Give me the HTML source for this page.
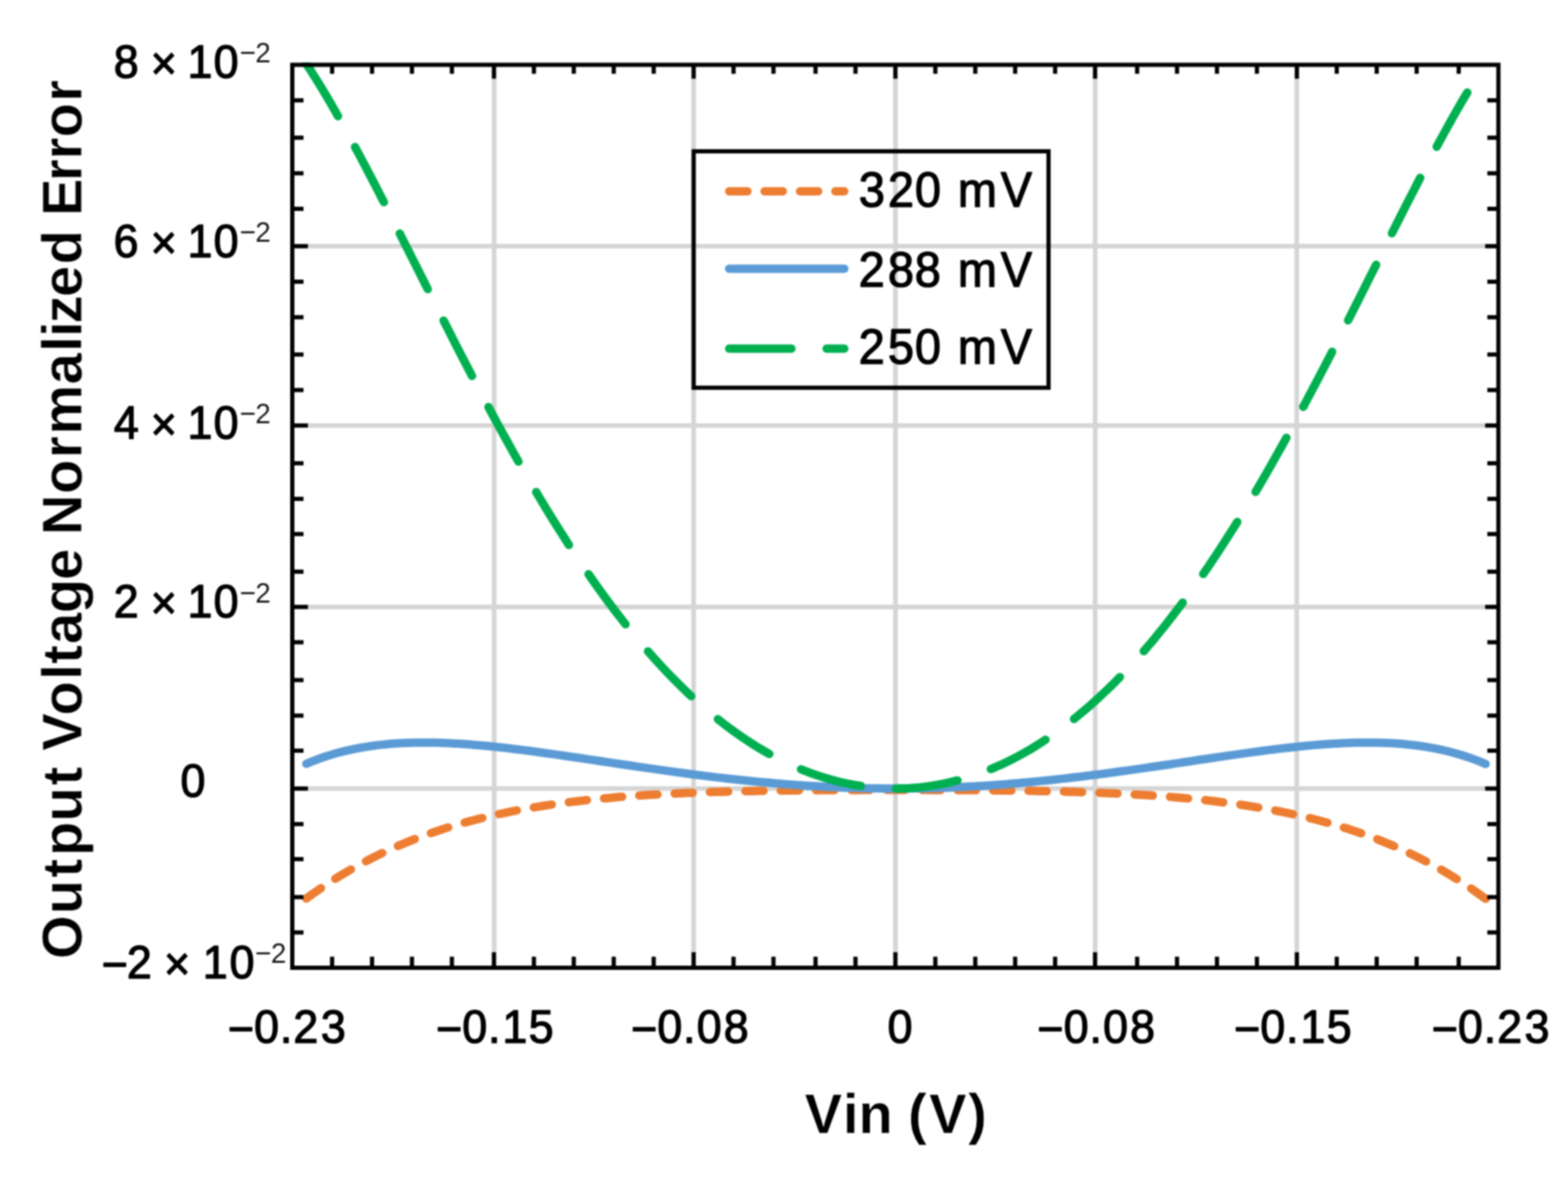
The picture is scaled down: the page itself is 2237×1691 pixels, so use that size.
<!DOCTYPE html>
<html lang="en"><head><meta charset="utf-8"><title>Output Voltage Normalized Error vs Vin</title>
<style>html,body{margin:0;padding:0;background:#fff;overflow:hidden}svg{display:block}text{font-family:"Liberation Sans", sans-serif;fill:#000;stroke-linejoin:round}</style></head><body>
<svg width="2237" height="1691" viewBox="0 0 2237 1691">
<rect x="0" y="0" width="2237" height="1691" fill="#fff"/>
<defs>
<filter id="soft" x="0" y="0" width="2237" height="1691" filterUnits="userSpaceOnUse" color-interpolation-filters="sRGB"><feGaussianBlur stdDeviation="0.9"/></filter>
<clipPath id="plot"><rect x="417.0" y="89.0" width="1720.7" height="1292.0"/></clipPath>
</defs>
<g filter="url(#soft)">
<g stroke="#d5d5d5" stroke-width="6.6" fill="none">
<line x1="705.0" y1="92.5" x2="705.0" y2="1381.0"/>
<line x1="989.6" y1="92.5" x2="989.6" y2="1381.0"/>
<line x1="1277.5" y1="92.5" x2="1277.5" y2="1381.0"/>
<line x1="1562.4" y1="92.5" x2="1562.4" y2="1381.0"/>
<line x1="1850.0" y1="92.5" x2="1850.0" y2="1381.0"/>
<line x1="417.0" y1="351.3" x2="2137.7" y2="351.3"/>
<line x1="417.0" y1="607.3" x2="2137.7" y2="607.3"/>
<line x1="417.0" y1="866.1" x2="2137.7" y2="866.1"/>
<line x1="417.0" y1="1125.3" x2="2137.7" y2="1125.3"/>
</g>
<g fill="none" stroke-width="12.0" stroke-linecap="round" stroke-linejoin="round" clip-path="url(#plot)">
<path d="M437.0,1282.2 L444.0,1277.1 L451.1,1272.1 L458.1,1267.3 L465.2,1262.5 L472.2,1258.0 L479.2,1253.5 L486.3,1249.2 L493.3,1245.0 L500.4,1240.9 L507.4,1236.9 L514.4,1233.0 L521.5,1229.3 L528.5,1225.6 L535.6,1222.1 L542.6,1218.6 L549.6,1215.3 L556.7,1212.1 L563.7,1208.9 L570.8,1205.9 L577.8,1203.0 L584.8,1200.1 L591.9,1197.3 L598.9,1194.6 L606.0,1192.0 L613.0,1189.5 L620.0,1187.1 L627.1,1184.7 L634.1,1182.4 L641.2,1180.2 L648.2,1178.1 L655.2,1176.0 L662.3,1174.0 L669.3,1172.1 L676.4,1170.2 L683.4,1168.4 L690.4,1166.7 L697.5,1165.0 L704.5,1163.3 L711.6,1161.8 L718.6,1160.3 L725.6,1158.8 L732.7,1157.4 L739.7,1156.0 L746.7,1154.7 L753.8,1153.5 L760.8,1152.3 L767.9,1151.1 L774.9,1150.0 L781.9,1148.9 L789.0,1147.9 L796.0,1146.9 L803.1,1145.9 L810.1,1145.0 L817.1,1144.1 L824.2,1143.3 L831.2,1142.5 L838.3,1141.7 L845.3,1140.9 L852.3,1140.2 L859.4,1139.5 L866.4,1138.9 L873.5,1138.2 L880.5,1137.6 L887.5,1137.1 L894.6,1136.5 L901.6,1136.0 L908.7,1135.5 L915.7,1135.0 L922.7,1134.6 L929.8,1134.1 L936.8,1133.7 L943.9,1133.3 L950.9,1133.0 L957.9,1132.6 L965.0,1132.3 L972.0,1131.9 L979.1,1131.6 L986.1,1131.4 L993.1,1131.1 L1000.2,1130.8 L1007.2,1130.6 L1014.3,1130.3 L1021.3,1130.1 L1028.3,1129.9 L1035.4,1129.7 L1042.4,1129.5 L1049.5,1129.4 L1056.5,1129.2 L1063.5,1129.0 L1070.6,1128.9 L1077.6,1128.8 L1084.7,1128.6 L1091.7,1128.5 L1098.7,1128.4 L1105.8,1128.3 L1112.8,1128.2 L1119.9,1128.1 L1126.9,1128.0 L1133.9,1128.0 L1141.0,1127.9 L1148.0,1127.8 L1155.1,1127.7 L1162.1,1127.7 L1169.1,1127.6 L1176.2,1127.6 L1183.2,1127.5 L1190.3,1127.5 L1197.3,1127.5 L1204.3,1127.4 L1211.4,1127.4 L1218.4,1127.4 L1225.5,1127.4 L1232.5,1127.3 L1239.5,1127.3 L1246.6,1127.3 L1253.6,1127.3 L1260.7,1127.3 L1267.7,1127.3 L1274.7,1127.3 L1281.8,1127.3 L1288.8,1127.3 L1295.8,1127.3 L1302.9,1127.3 L1309.9,1127.3 L1317.0,1127.3 L1324.0,1127.3 L1331.0,1127.4 L1338.1,1127.4 L1345.1,1127.4 L1352.2,1127.4 L1359.2,1127.5 L1366.2,1127.5 L1373.3,1127.5 L1380.3,1127.6 L1387.4,1127.6 L1394.4,1127.7 L1401.4,1127.8 L1408.5,1127.8 L1415.5,1127.9 L1422.6,1128.0 L1429.6,1128.0 L1436.6,1128.1 L1443.7,1128.2 L1450.7,1128.3 L1457.8,1128.4 L1464.8,1128.5 L1471.8,1128.6 L1478.9,1128.8 L1485.9,1128.9 L1493.0,1129.1 L1500.0,1129.2 L1507.0,1129.4 L1514.1,1129.5 L1521.1,1129.7 L1528.2,1129.9 L1535.2,1130.1 L1542.2,1130.4 L1549.3,1130.6 L1556.3,1130.8 L1563.4,1131.1 L1570.4,1131.4 L1577.4,1131.7 L1584.5,1132.0 L1591.5,1132.3 L1598.6,1132.6 L1605.6,1133.0 L1612.6,1133.4 L1619.7,1133.7 L1626.7,1134.2 L1633.8,1134.6 L1640.8,1135.1 L1647.8,1135.5 L1654.9,1136.0 L1661.9,1136.6 L1669.0,1137.1 L1676.0,1137.7 L1683.0,1138.3 L1690.1,1138.9 L1697.1,1139.6 L1704.2,1140.3 L1711.2,1141.0 L1718.2,1141.7 L1725.3,1142.5 L1732.3,1143.3 L1739.4,1144.2 L1746.4,1145.1 L1753.4,1146.0 L1760.5,1146.9 L1767.5,1147.9 L1774.6,1149.0 L1781.6,1150.1 L1788.6,1151.2 L1795.7,1152.4 L1802.7,1153.6 L1809.8,1154.8 L1816.8,1156.1 L1823.8,1157.5 L1830.9,1158.9 L1837.9,1160.4 L1844.9,1161.9 L1852.0,1163.5 L1859.0,1165.1 L1866.1,1166.8 L1873.1,1168.5 L1880.1,1170.3 L1887.2,1172.2 L1894.2,1174.1 L1901.3,1176.2 L1908.3,1178.2 L1915.3,1180.4 L1922.4,1182.6 L1929.4,1184.9 L1936.5,1187.2 L1943.5,1189.7 L1950.5,1192.2 L1957.6,1194.8 L1964.6,1197.5 L1971.7,1200.3 L1978.7,1203.2 L1985.7,1206.1 L1992.8,1209.2 L1999.8,1212.3 L2006.9,1215.5 L2013.9,1218.9 L2020.9,1222.3 L2028.0,1225.9 L2035.0,1229.5 L2042.1,1233.3 L2049.1,1237.2 L2056.1,1241.1 L2063.2,1245.2 L2070.2,1249.5 L2077.3,1253.8 L2084.3,1258.3 L2091.3,1262.9 L2098.4,1267.6 L2105.4,1272.5 L2112.5,1277.5 L2119.5,1282.6" stroke="#ed7d31" stroke-dasharray="26.0 24.5" stroke-dashoffset="0.5"/>
<path d="M437.0,1090.0 L444.0,1087.0 L451.1,1084.3 L458.1,1081.7 L465.2,1079.3 L472.2,1077.1 L479.2,1075.0 L486.3,1073.1 L493.3,1071.4 L500.4,1069.8 L507.4,1068.3 L514.4,1067.0 L521.5,1065.8 L528.5,1064.7 L535.6,1063.7 L542.6,1062.9 L549.6,1062.2 L556.7,1061.5 L563.7,1061.0 L570.8,1060.6 L577.8,1060.2 L584.8,1060.0 L591.9,1059.8 L598.9,1059.7 L606.0,1059.7 L613.0,1059.7 L620.0,1059.8 L627.1,1060.0 L634.1,1060.3 L641.2,1060.6 L648.2,1060.9 L655.2,1061.3 L662.3,1061.8 L669.3,1062.3 L676.4,1062.9 L683.4,1063.5 L690.4,1064.1 L697.5,1064.8 L704.5,1065.5 L711.6,1066.3 L718.6,1067.0 L725.6,1067.8 L732.7,1068.7 L739.7,1069.5 L746.7,1070.4 L753.8,1071.3 L760.8,1072.3 L767.9,1073.2 L774.9,1074.2 L781.9,1075.2 L789.0,1076.1 L796.0,1077.1 L803.1,1078.2 L810.1,1079.2 L817.1,1080.2 L824.2,1081.3 L831.2,1082.3 L838.3,1083.4 L845.3,1084.4 L852.3,1085.5 L859.4,1086.5 L866.4,1087.6 L873.5,1088.6 L880.5,1089.7 L887.5,1090.7 L894.6,1091.8 L901.6,1092.8 L908.7,1093.9 L915.7,1094.9 L922.7,1095.9 L929.8,1096.9 L936.8,1097.9 L943.9,1098.9 L950.9,1099.9 L957.9,1100.9 L965.0,1101.9 L972.0,1102.8 L979.1,1103.8 L986.1,1104.7 L993.1,1105.6 L1000.2,1106.5 L1007.2,1107.4 L1014.3,1108.2 L1021.3,1109.1 L1028.3,1109.9 L1035.4,1110.7 L1042.4,1111.5 L1049.5,1112.3 L1056.5,1113.0 L1063.5,1113.8 L1070.6,1114.5 L1077.6,1115.2 L1084.7,1115.9 L1091.7,1116.5 L1098.7,1117.1 L1105.8,1117.8 L1112.8,1118.3 L1119.9,1118.9 L1126.9,1119.5 L1133.9,1120.0 L1141.0,1120.5 L1148.0,1121.0 L1155.1,1121.4 L1162.1,1121.8 L1169.1,1122.2 L1176.2,1122.6 L1183.2,1123.0 L1190.3,1123.3 L1197.3,1123.6 L1204.3,1123.9 L1211.4,1124.1 L1218.4,1124.4 L1225.5,1124.6 L1232.5,1124.8 L1239.5,1124.9 L1246.6,1125.0 L1253.6,1125.1 L1260.7,1125.2 L1267.7,1125.3 L1274.7,1125.3 L1281.8,1125.3 L1288.8,1125.3 L1295.8,1125.2 L1302.9,1125.1 L1309.9,1125.0 L1317.0,1124.9 L1324.0,1124.7 L1331.0,1124.6 L1338.1,1124.4 L1345.1,1124.1 L1352.2,1123.9 L1359.2,1123.6 L1366.2,1123.3 L1373.3,1123.0 L1380.3,1122.6 L1387.4,1122.2 L1394.4,1121.8 L1401.4,1121.4 L1408.5,1120.9 L1415.5,1120.4 L1422.6,1119.9 L1429.6,1119.4 L1436.6,1118.9 L1443.7,1118.3 L1450.7,1117.7 L1457.8,1117.1 L1464.8,1116.5 L1471.8,1115.8 L1478.9,1115.1 L1485.9,1114.4 L1493.0,1113.7 L1500.0,1113.0 L1507.0,1112.2 L1514.1,1111.4 L1521.1,1110.7 L1528.2,1109.8 L1535.2,1109.0 L1542.2,1108.2 L1549.3,1107.3 L1556.3,1106.4 L1563.4,1105.5 L1570.4,1104.6 L1577.4,1103.7 L1584.5,1102.8 L1591.5,1101.8 L1598.6,1100.8 L1605.6,1099.9 L1612.6,1098.9 L1619.7,1097.9 L1626.7,1096.9 L1633.8,1095.9 L1640.8,1094.8 L1647.8,1093.8 L1654.9,1092.8 L1661.9,1091.7 L1669.0,1090.7 L1676.0,1089.6 L1683.0,1088.6 L1690.1,1087.5 L1697.1,1086.5 L1704.2,1085.4 L1711.2,1084.3 L1718.2,1083.3 L1725.3,1082.2 L1732.3,1081.2 L1739.4,1080.1 L1746.4,1079.1 L1753.4,1078.1 L1760.5,1077.1 L1767.5,1076.1 L1774.6,1075.1 L1781.6,1074.1 L1788.6,1073.1 L1795.7,1072.2 L1802.7,1071.3 L1809.8,1070.4 L1816.8,1069.5 L1823.8,1068.6 L1830.9,1067.8 L1837.9,1067.0 L1844.9,1066.2 L1852.0,1065.5 L1859.0,1064.7 L1866.1,1064.1 L1873.1,1063.4 L1880.1,1062.8 L1887.2,1062.3 L1894.2,1061.8 L1901.3,1061.3 L1908.3,1060.9 L1915.3,1060.5 L1922.4,1060.2 L1929.4,1060.0 L1936.5,1059.8 L1943.5,1059.7 L1950.5,1059.7 L1957.6,1059.7 L1964.6,1059.8 L1971.7,1060.0 L1978.7,1060.2 L1985.7,1060.6 L1992.8,1061.0 L1999.8,1061.6 L2006.9,1062.2 L2013.9,1063.0 L2020.9,1063.8 L2028.0,1064.8 L2035.0,1065.9 L2042.1,1067.1 L2049.1,1068.4 L2056.1,1069.9 L2063.2,1071.5 L2070.2,1073.3 L2077.3,1075.2 L2084.3,1077.2 L2091.3,1079.5 L2098.4,1081.9 L2105.4,1084.5 L2112.5,1087.2 L2119.5,1090.2" stroke="#5b9bd5"/>
<path d="M437.0,91.1 L444.0,101.8 L451.0,112.9 L458.0,124.2 L465.0,135.8 L472.0,147.7 L478.9,159.9 L485.9,172.2 L492.9,184.8 L499.9,197.5 L506.9,210.5 L513.9,223.5 L520.9,236.8 L527.9,250.1 L534.9,263.6 L541.9,277.2 L548.9,290.8 L555.9,304.6 L562.8,318.4 L569.8,332.2 L576.8,346.1 L583.8,360.0 L590.8,373.9 L597.8,387.8 L604.8,401.8 L611.8,415.7 L618.8,429.6 L625.8,443.4 L632.8,457.3 L639.8,471.0 L646.7,484.8 L653.7,498.4 L660.7,512.0 L667.7,525.5 L674.7,538.9 L681.7,552.2 L688.7,565.5 L695.7,578.6 L702.7,591.6 L709.7,604.6 L716.7,617.3 L723.7,630.0 L730.6,642.6 L737.6,655.0 L744.6,667.3 L751.6,679.4 L758.6,691.4 L765.6,703.3 L772.6,715.0 L779.6,726.6 L786.6,738.0 L793.6,749.2 L800.6,760.3 L807.6,771.3 L814.5,782.1 L821.5,792.7 L828.5,803.1 L835.5,813.4 L842.5,823.5 L849.5,833.5 L856.5,843.3 L863.5,852.9 L870.5,862.3 L877.5,871.6 L884.5,880.7 L891.5,889.6 L898.4,898.4 L905.4,906.9 L912.4,915.3 L919.4,923.6 L926.4,931.6 L933.4,939.5 L940.4,947.2 L947.4,954.8 L954.4,962.1 L961.4,969.3 L968.4,976.3 L975.4,983.2 L982.3,989.9 L989.3,996.4 L996.3,1002.7 L1003.3,1008.9 L1010.3,1014.9 L1017.3,1020.7 L1024.3,1026.4 L1031.3,1031.9 L1038.3,1037.2 L1045.3,1042.4 L1052.3,1047.4 L1059.3,1052.2 L1066.2,1056.9 L1073.2,1061.4 L1080.2,1065.8 L1087.2,1070.0 L1094.2,1074.0 L1101.2,1077.9 L1108.2,1081.6 L1115.2,1085.2 L1122.2,1088.6 L1129.2,1091.8 L1136.2,1094.9 L1143.2,1097.9 L1150.1,1100.7 L1157.1,1103.3 L1164.1,1105.8 L1171.1,1108.1 L1178.1,1110.3 L1185.1,1112.3 L1192.1,1114.2 L1199.1,1116.0 L1206.1,1117.5 L1213.1,1119.0 L1220.1,1120.3 L1227.1,1121.4 L1234.0,1122.4 L1241.0,1123.3 L1248.0,1124.0 L1255.0,1124.5 L1262.0,1124.9 L1269.0,1125.2 L1276.0,1125.3 L1283.0,1125.3 L1290.0,1125.1 L1297.0,1124.8 L1304.0,1124.3 L1311.0,1123.7 L1317.9,1122.9 L1324.9,1122.0 L1331.9,1120.9 L1338.9,1119.7 L1345.9,1118.4 L1352.9,1116.9 L1359.9,1115.2 L1366.9,1113.4 L1373.9,1111.5 L1380.9,1109.4 L1387.9,1107.1 L1394.9,1104.7 L1401.8,1102.2 L1408.8,1099.5 L1415.8,1096.6 L1422.8,1093.6 L1429.8,1090.5 L1436.8,1087.1 L1443.8,1083.7 L1450.8,1080.0 L1457.8,1076.2 L1464.8,1072.3 L1471.8,1068.2 L1478.8,1063.9 L1485.7,1059.5 L1492.7,1054.9 L1499.7,1050.2 L1506.7,1045.3 L1513.7,1040.2 L1520.7,1034.9 L1527.7,1029.5 L1534.7,1024.0 L1541.7,1018.2 L1548.7,1012.3 L1555.7,1006.3 L1562.7,1000.0 L1569.6,993.6 L1576.6,987.0 L1583.6,980.3 L1590.6,973.4 L1597.6,966.3 L1604.6,959.0 L1611.6,951.6 L1618.6,944.0 L1625.6,936.2 L1632.6,928.2 L1639.6,920.1 L1646.6,911.8 L1653.5,903.3 L1660.5,894.7 L1667.5,885.8 L1674.5,876.8 L1681.5,867.7 L1688.5,858.3 L1695.5,848.8 L1702.5,839.1 L1709.5,829.3 L1716.5,819.2 L1723.5,809.1 L1730.5,798.7 L1737.4,788.2 L1744.4,777.5 L1751.4,766.6 L1758.4,755.6 L1765.4,744.5 L1772.4,733.1 L1779.4,721.7 L1786.4,710.0 L1793.4,698.3 L1800.4,686.3 L1807.4,674.3 L1814.4,662.1 L1821.3,649.7 L1828.3,637.2 L1835.3,624.6 L1842.3,611.9 L1849.3,599.1 L1856.3,586.1 L1863.3,573.0 L1870.3,559.8 L1877.3,546.6 L1884.3,533.2 L1891.3,519.7 L1898.3,506.2 L1905.2,492.6 L1912.2,478.9 L1919.2,465.2 L1926.2,451.4 L1933.2,437.5 L1940.2,423.7 L1947.2,409.8 L1954.2,395.8 L1961.2,381.9 L1968.2,368.0 L1975.2,354.1 L1982.2,340.2 L1989.1,326.3 L1996.1,312.5 L2003.1,298.7 L2010.1,285.0 L2017.1,271.4 L2024.1,257.8 L2031.1,244.4 L2038.1,231.1 L2045.1,217.9 L2052.1,204.9 L2059.1,192.1 L2066.1,179.4 L2073.0,166.9 L2080.0,154.7 L2087.0,142.6 L2094.0,130.9 L2101.0,119.3 L2108.0,108.1" stroke="#00b050" stroke-dasharray="88.8 50.25" stroke-dashoffset="1.5"/>
</g>
<g stroke="#000" stroke-width="6.0" fill="none">
<rect x="417.0" y="92.5" width="1720.7" height="1288.5"/>
<line x1="473.8" y1="92.5" x2="473.8" y2="105.3"/>
<line x1="473.8" y1="1381.0" x2="473.8" y2="1365.2"/>
<line x1="530.8" y1="92.5" x2="530.8" y2="105.3"/>
<line x1="530.8" y1="1381.0" x2="530.8" y2="1365.2"/>
<line x1="587.7" y1="92.5" x2="587.7" y2="105.3"/>
<line x1="587.7" y1="1381.0" x2="587.7" y2="1365.2"/>
<line x1="644.7" y1="92.5" x2="644.7" y2="105.3"/>
<line x1="644.7" y1="1381.0" x2="644.7" y2="1365.2"/>
<line x1="704.7" y1="92.5" x2="704.7" y2="112.3"/>
<line x1="704.7" y1="1381.0" x2="704.7" y2="1358.8"/>
<line x1="761.7" y1="92.5" x2="761.7" y2="105.3"/>
<line x1="761.7" y1="1381.0" x2="761.7" y2="1365.2"/>
<line x1="818.6" y1="92.5" x2="818.6" y2="105.3"/>
<line x1="818.6" y1="1381.0" x2="818.6" y2="1365.2"/>
<line x1="875.6" y1="92.5" x2="875.6" y2="105.3"/>
<line x1="875.6" y1="1381.0" x2="875.6" y2="1365.2"/>
<line x1="932.6" y1="92.5" x2="932.6" y2="105.3"/>
<line x1="932.6" y1="1381.0" x2="932.6" y2="1365.2"/>
<line x1="989.6" y1="92.5" x2="989.6" y2="112.3"/>
<line x1="989.6" y1="1381.0" x2="989.6" y2="1358.8"/>
<line x1="1046.5" y1="92.5" x2="1046.5" y2="105.3"/>
<line x1="1046.5" y1="1381.0" x2="1046.5" y2="1365.2"/>
<line x1="1103.5" y1="92.5" x2="1103.5" y2="105.3"/>
<line x1="1103.5" y1="1381.0" x2="1103.5" y2="1365.2"/>
<line x1="1163.5" y1="92.5" x2="1163.5" y2="105.3"/>
<line x1="1163.5" y1="1381.0" x2="1163.5" y2="1365.2"/>
<line x1="1220.5" y1="92.5" x2="1220.5" y2="105.3"/>
<line x1="1220.5" y1="1381.0" x2="1220.5" y2="1365.2"/>
<line x1="1277.4" y1="92.5" x2="1277.4" y2="112.3"/>
<line x1="1277.4" y1="1381.0" x2="1277.4" y2="1358.8"/>
<line x1="1334.4" y1="92.5" x2="1334.4" y2="105.3"/>
<line x1="1334.4" y1="1381.0" x2="1334.4" y2="1365.2"/>
<line x1="1391.4" y1="92.5" x2="1391.4" y2="105.3"/>
<line x1="1391.4" y1="1381.0" x2="1391.4" y2="1365.2"/>
<line x1="1448.3" y1="92.5" x2="1448.3" y2="105.3"/>
<line x1="1448.3" y1="1381.0" x2="1448.3" y2="1365.2"/>
<line x1="1505.3" y1="92.5" x2="1505.3" y2="105.3"/>
<line x1="1505.3" y1="1381.0" x2="1505.3" y2="1365.2"/>
<line x1="1562.3" y1="92.5" x2="1562.3" y2="112.3"/>
<line x1="1562.3" y1="1381.0" x2="1562.3" y2="1358.8"/>
<line x1="1622.3" y1="92.5" x2="1622.3" y2="105.3"/>
<line x1="1622.3" y1="1381.0" x2="1622.3" y2="1365.2"/>
<line x1="1679.2" y1="92.5" x2="1679.2" y2="105.3"/>
<line x1="1679.2" y1="1381.0" x2="1679.2" y2="1365.2"/>
<line x1="1736.2" y1="92.5" x2="1736.2" y2="105.3"/>
<line x1="1736.2" y1="1381.0" x2="1736.2" y2="1365.2"/>
<line x1="1793.2" y1="92.5" x2="1793.2" y2="105.3"/>
<line x1="1793.2" y1="1381.0" x2="1793.2" y2="1365.2"/>
<line x1="1850.2" y1="92.5" x2="1850.2" y2="112.3"/>
<line x1="1850.2" y1="1381.0" x2="1850.2" y2="1358.8"/>
<line x1="1907.1" y1="92.5" x2="1907.1" y2="105.3"/>
<line x1="1907.1" y1="1381.0" x2="1907.1" y2="1365.2"/>
<line x1="1964.1" y1="92.5" x2="1964.1" y2="105.3"/>
<line x1="1964.1" y1="1381.0" x2="1964.1" y2="1365.2"/>
<line x1="2021.1" y1="92.5" x2="2021.1" y2="105.3"/>
<line x1="2021.1" y1="1381.0" x2="2021.1" y2="1365.2"/>
<line x1="2081.1" y1="92.5" x2="2081.1" y2="105.3"/>
<line x1="2081.1" y1="1381.0" x2="2081.1" y2="1365.2"/>
<line x1="417.0" y1="143.2" x2="433.0" y2="143.2"/>
<line x1="2137.7" y1="143.2" x2="2121.9" y2="143.2"/>
<line x1="417.0" y1="196.5" x2="433.0" y2="196.5"/>
<line x1="2137.7" y1="196.5" x2="2121.9" y2="196.5"/>
<line x1="417.0" y1="247.3" x2="433.0" y2="247.3"/>
<line x1="2137.7" y1="247.3" x2="2121.9" y2="247.3"/>
<line x1="417.0" y1="298.0" x2="433.0" y2="298.0"/>
<line x1="2137.7" y1="298.0" x2="2121.9" y2="298.0"/>
<line x1="417.0" y1="351.3" x2="439.3" y2="351.3"/>
<line x1="2137.7" y1="351.3" x2="2118.8" y2="351.3"/>
<line x1="417.0" y1="402.0" x2="433.0" y2="402.0"/>
<line x1="2137.7" y1="402.0" x2="2121.9" y2="402.0"/>
<line x1="417.0" y1="452.7" x2="433.0" y2="452.7"/>
<line x1="2137.7" y1="452.7" x2="2121.9" y2="452.7"/>
<line x1="417.0" y1="505.9" x2="433.0" y2="505.9"/>
<line x1="2137.7" y1="505.9" x2="2121.9" y2="505.9"/>
<line x1="417.0" y1="556.6" x2="433.0" y2="556.6"/>
<line x1="2137.7" y1="556.6" x2="2121.9" y2="556.6"/>
<line x1="417.0" y1="607.2" x2="439.3" y2="607.2"/>
<line x1="2137.7" y1="607.2" x2="2118.8" y2="607.2"/>
<line x1="417.0" y1="661.1" x2="433.0" y2="661.1"/>
<line x1="2137.7" y1="661.1" x2="2121.9" y2="661.1"/>
<line x1="417.0" y1="711.9" x2="433.0" y2="711.9"/>
<line x1="2137.7" y1="711.9" x2="2121.9" y2="711.9"/>
<line x1="417.0" y1="762.1" x2="433.0" y2="762.1"/>
<line x1="2137.7" y1="762.1" x2="2121.9" y2="762.1"/>
<line x1="417.0" y1="815.8" x2="433.0" y2="815.8"/>
<line x1="2137.7" y1="815.8" x2="2121.9" y2="815.8"/>
<line x1="417.0" y1="866.1" x2="439.3" y2="866.1"/>
<line x1="2137.7" y1="866.1" x2="2118.8" y2="866.1"/>
<line x1="417.0" y1="916.5" x2="433.0" y2="916.5"/>
<line x1="2137.7" y1="916.5" x2="2121.9" y2="916.5"/>
<line x1="417.0" y1="970.5" x2="433.0" y2="970.5"/>
<line x1="2137.7" y1="970.5" x2="2121.9" y2="970.5"/>
<line x1="417.0" y1="1021.2" x2="433.0" y2="1021.2"/>
<line x1="2137.7" y1="1021.2" x2="2121.9" y2="1021.2"/>
<line x1="417.0" y1="1071.2" x2="433.0" y2="1071.2"/>
<line x1="2137.7" y1="1071.2" x2="2121.9" y2="1071.2"/>
<line x1="417.0" y1="1125.3" x2="439.3" y2="1125.3"/>
<line x1="2137.7" y1="1125.3" x2="2118.8" y2="1125.3"/>
<line x1="417.0" y1="1176.0" x2="433.0" y2="1176.0"/>
<line x1="2137.7" y1="1176.0" x2="2121.9" y2="1176.0"/>
<line x1="417.0" y1="1226.0" x2="433.0" y2="1226.0"/>
<line x1="2137.7" y1="1226.0" x2="2121.9" y2="1226.0"/>
<line x1="417.0" y1="1280.2" x2="433.0" y2="1280.2"/>
<line x1="2137.7" y1="1280.2" x2="2121.9" y2="1280.2"/>
<line x1="417.0" y1="1330.6" x2="433.0" y2="1330.6"/>
<line x1="2137.7" y1="1330.6" x2="2121.9" y2="1330.6"/>
</g>
<rect x="989.6" y="215.9" width="506.3" height="337.4" fill="none" stroke="#000" stroke-width="6"/>
<g fill="none" stroke-width="12.0" stroke-linecap="round">
<line x1="1040.3" y1="272.9" x2="1204.5" y2="272.9" stroke="#ed7d31" stroke-dasharray="26.0 24.5"/>
<line x1="1040.3" y1="383.5" x2="1204.5" y2="383.5" stroke="#5b9bd5"/>
<line x1="1040.3" y1="497.5" x2="1204.5" y2="497.5" stroke="#00b050" stroke-dasharray="88.8 50.25"/>
</g>
<g font-size="70.5" stroke="#000" stroke-width="1.7">
<text transform="scale(0.95,1)" x="1289.8 1333.3 1374.0 1413.2 1438.5 1503.0" y="294.6">320 mV</text>
<text transform="scale(0.95,1)" x="1289.5 1333.3 1373.7 1412.9 1438.5 1503.0" y="408.6">288 mV</text>
<text transform="scale(0.95,1)" x="1289.5 1333.3 1374.0 1413.2 1438.5 1503.0" y="519.1">250 mV</text>
</g>
<g font-size="67.0" stroke="#000" stroke-width="1.7">
<text transform="scale(0.955,1)" x="170.0 207.2 225.1 264.3 280.0 319.0" y="110.8 110.8 112.7 110.8 110.8 110.8">8 × 10<tspan x="358.0 381.3" y="89.0 89.3" font-size="41.5" stroke-width="0.0" fill="#1a1a1a" stroke="#1a1a1a">−2</tspan></text>
<text transform="scale(0.955,1)" x="169.6 206.9 225.1 264.3 280.0 319.0" y="366.9 366.9 368.8 366.9 366.9 366.9">6 × 10<tspan x="358.0 381.3" y="345.1 345.4" font-size="41.5" stroke-width="0.0" fill="#1a1a1a" stroke="#1a1a1a">−2</tspan></text>
<text transform="scale(0.955,1)" x="170.3 207.6 225.1 264.3 280.0 319.0" y="626.0 626.0 627.9 626.0 626.0 626.0">4 × 10<tspan x="358.0 381.3" y="604.2 604.5" font-size="41.5" stroke-width="0.0" fill="#1a1a1a" stroke="#1a1a1a">−2</tspan></text>
<text transform="scale(0.955,1)" x="170.0 207.2 225.1 264.3 280.0 319.0" y="881.4 881.4 883.3 881.4 881.4 881.4">2 × 10<tspan x="358.0 381.3" y="859.6 859.9" font-size="41.5" stroke-width="0.0" fill="#1a1a1a" stroke="#1a1a1a">−2</tspan></text>
<text transform="scale(0.955,1)" x="269.7" y="1136.6">0</text>
<text transform="scale(0.955,1)" x="151.9 189.6 226.8 245.0 284.1 302.8 342.9" y="1398.9 1395.7 1395.7 1397.6 1395.7 1395.7 1395.7">−2 × 10<tspan x="381.2 404.6" y="1373.9 1374.2" font-size="41.5" stroke-width="0.0" fill="#1a1a1a" stroke="#1a1a1a">−2</tspan></text>
</g>
<g font-size="67.0" stroke="#000" stroke-width="1.7">
<text transform="scale(0.955,1)" x="340.3 379.6 418.1 438.2 479.2" y="1491.0 1487.8 1487.8 1487.8 1487.8">−0.23</text>
<text transform="scale(0.955,1)" x="651.4 690.5 729.1 750.6 789.8" y="1491.0 1487.8 1487.8 1487.8 1487.8">−0.15</text>
<text transform="scale(0.955,1)" x="942.6 981.9 1020.4 1040.8 1081.1" y="1491.0 1487.8 1487.8 1487.8 1487.8">−0.08</text>
<text transform="scale(0.955,1)" x="1326.0" y="1487.8">0</text>
<text transform="scale(0.955,1)" x="1549.6 1589.0 1627.4 1647.9 1688.2" y="1491.0 1487.8 1487.8 1487.8 1487.8">−0.08</text>
<text transform="scale(0.955,1)" x="1843.5 1882.7 1921.2 1942.7 1981.9" y="1491.0 1487.8 1487.8 1487.8 1487.8">−0.15</text>
<text transform="scale(0.955,1)" x="2138.7 2178.1 2216.5 2236.6 2277.6" y="1491.0 1487.8 1487.8 1487.8 1487.8">−0.23</text>
</g>
<text  x="1147.9 1202.5 1224.8 1273.6 1295.6 1325.5 1381.2" y="1617.3" font-size="80.0" font-weight="bold" stroke="#fff" stroke-width="0.6">Vin (V)</text>
<text transform="translate(116.2,1365.0) rotate(-90) scale(1.0,1)" x="-3.6 60.4 112.7 143.5 192.7 244.3 270.9 293.8 344.1 395.1 417.8 445.9 490.0 537.5 582.0 601.5 660.3 711.2 744.7 816.6 863.0 884.3 903.6 941.2 987.7 1036.6 1056.8 1106.5 1137.5 1169.0 1219.8" y="0" font-size="80.0" font-weight="bold" stroke="#fff" stroke-width="0.6">Output Voltage Normalized Error</text>
</g>
</svg></body></html>
